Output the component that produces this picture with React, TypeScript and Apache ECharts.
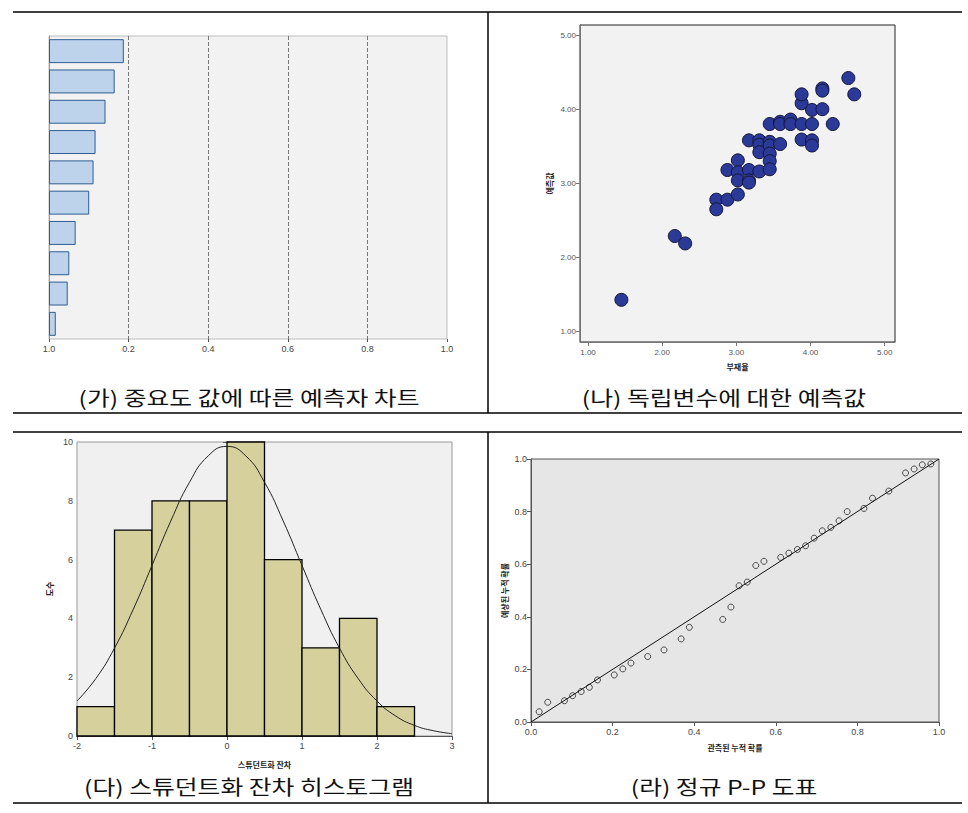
import React, { useEffect, useRef } from "react";
import * as echarts from "echarts";

// ---------- (가) predictor importance ----------
const importanceCats = ["예측자 1", "예측자 2", "예측자 3", "예측자 4", "예측자 5", "예측자 6", "예측자 7", "예측자 8", "예측자 9", "예측자 10"];
const importanceValues = [0.188, 0.165, 0.142, 0.117, 0.112, 0.101, 0.067, 0.051, 0.047, 0.017];
const importanceTickLabels = ["1.0", "0.2", "0.4", "0.6", "0.8", "1.0"];

// ---------- (나) scatter ----------
const scatterX = [1.45, 2.17, 2.31, 2.73, 2.73, 2.88, 2.88, 3.02, 3.02, 3.02, 3.02, 3.17, 3.17, 3.17, 3.17, 3.31, 3.31, 3.31, 3.31, 3.45, 3.45, 3.45, 3.45, 3.45, 3.45, 3.59, 3.59, 3.59, 3.73, 3.73, 3.88, 3.88, 3.88, 3.88, 4.02, 4.02, 4.02, 4.02, 4.16, 4.16, 4.16, 4.30, 4.51, 4.59];
const scatterY = [1.43, 2.29, 2.19, 2.78, 2.65, 2.78, 3.18, 2.85, 3.31, 3.15, 3.04, 3.18, 3.04, 3.01, 3.58, 3.58, 3.52, 3.42, 3.16, 3.56, 3.51, 3.40, 3.30, 3.19, 3.80, 3.83, 3.80, 3.53, 3.86, 3.80, 3.80, 3.59, 4.08, 4.20, 3.99, 3.80, 3.58, 3.51, 4.28, 4.25, 4.00, 3.80, 4.42, 4.20];
const scatterTicks = [1, 2, 3, 4, 5];

// ---------- (다) histogram ----------
const histBinStart = [-2, -1.5, -1, -0.5, 0, 0.5, 1, 1.5, 2];
const histBinEnd = [-1.5, -1, -0.5, 0, 0.5, 1, 1.5, 2, 2.5];
const histCounts = [1, 7, 8, 8, 10, 6, 3, 4, 1];
const curveX = [-2, -1.75, -1.5, -1.25, -1, -0.75, -0.5, -0.25, 0, 0.25, 0.5, 0.75, 1, 1.25, 1.5, 1.75, 2, 2.25, 2.5, 2.75, 3];
const curveY = [1.19, 1.95, 2.99, 4.31, 5.8, 7.31, 8.63, 9.53, 9.85, 9.53, 8.63, 7.31, 5.8, 4.31, 2.99, 1.95, 1.19, 0.68, 0.36, 0.18, 0.08];

// ---------- (라) P-P plot ----------
const ppObserved = [0.02, 0.041, 0.082, 0.102, 0.123, 0.143, 0.163, 0.204, 0.225, 0.245, 0.286, 0.326, 0.368, 0.388, 0.47, 0.49, 0.51, 0.53, 0.551, 0.571, 0.612, 0.632, 0.653, 0.673, 0.694, 0.714, 0.735, 0.755, 0.775, 0.816, 0.837, 0.877, 0.918, 0.939, 0.959, 0.98];
const ppExpected = [0.039, 0.075, 0.081, 0.1, 0.116, 0.132, 0.16, 0.179, 0.202, 0.224, 0.249, 0.274, 0.316, 0.36, 0.39, 0.437, 0.518, 0.532, 0.595, 0.611, 0.626, 0.642, 0.656, 0.67, 0.699, 0.727, 0.74, 0.765, 0.8, 0.812, 0.851, 0.878, 0.947, 0.962, 0.978, 0.981];
const refLineX = [0, 1];
const refLineY = [0, 1];

const captions = [
  "(가) 중요도 값에 따른 예측자 차트",
  "(나) 독립변수에 대한 예측값",
  "(다) 스튜던트화 잔차 히스토그램",
  "(라) 정규 P-P 도표",
];

const LATIN = "'Liberation Sans', Arial, sans-serif";
const KR = "'Noto Sans CJK KR', sans-serif";

export default function App() {
  const ref = useRef<HTMLDivElement>(null);

  useEffect(() => {
    if (!ref.current) return;
    const chart = echarts.init(ref.current, undefined, { renderer: "svg" });

    const tickLabel = (extra: any = {}) => ({
      fontFamily: LATIN,
      fontSize: 9,
      color: "#444",
      ...extra,
    });
    const nameStyle = { fontFamily: KR, fontSize: 8, fontWeight: "bold" as const, color: "#222" };

    const tableLine = (x1: number, y1: number, x2: number, y2: number) => ({
      type: "line",
      shape: { x1, y1, x2, y2 },
      style: { stroke: "#000", lineWidth: 1.5 },
      silent: true,
    });
    const caption = (text: string, x: number, y: number) => ({
      type: "text",
      x,
      y,
      originX: 0,
      originY: 0,
      scaleX: 1.24,
      style: {
        text,
        font: `20px ${KR}`,
        fill: "#111",
        textAlign: "center",
        textVerticalAlign: "middle",
      },
      silent: true,
    });

    const option: any = {
      animation: false,
      backgroundColor: "#fff",
      grid: [
        { left: 49, top: 36, width: 398, height: 303, show: true, backgroundColor: "#f2f2f2", borderColor: "#bdbdbd", borderWidth: 1 },
        { left: 580, top: 25, width: 315, height: 317, show: true, backgroundColor: "#f2f2f2", borderColor: "#222", borderWidth: 1 },
        { left: 77, top: 442, width: 375, height: 294, show: true, backgroundColor: "#f0f0f0", borderColor: "#999", borderWidth: 1 },
        { left: 531, top: 459, width: 408, height: 263, show: true, backgroundColor: "#e6e6e6", borderColor: "#555", borderWidth: 1 },
      ],
      xAxis: [
        {
          gridIndex: 0, type: "value", min: 0, max: 1, interval: 0.2,
          axisLine: { lineStyle: { color: "#555" } },
          axisTick: { show: true, length: 3, lineStyle: { color: "#555" } },
          axisLabel: { ...tickLabel(), margin: 5, formatter: (v: number) => importanceTickLabels[Math.round(v / 0.2)] },
          splitLine: { show: true, showMinLine: false, showMaxLine: false, lineStyle: { type: "dashed", color: "#777", width: 1 } },
        },
        {
          gridIndex: 1, type: "value", min: 0.892, max: 5.139,
          axisLine: { lineStyle: { color: "#777" } },
          axisTick: { show: true, length: 4, customValues: scatterTicks, lineStyle: { color: "#777" } },
          axisLabel: { ...tickLabel({ fontSize: 8, color: "#555" }), margin: 6, customValues: scatterTicks, formatter: (v: number) => v.toFixed(2) },
          splitLine: { show: false },
          name: "부재율", nameLocation: "middle", nameGap: 20, nameTextStyle: nameStyle,
        },
        {
          gridIndex: 2, type: "value", min: -2, max: 3, interval: 1,
          axisLine: { lineStyle: { color: "#555" } },
          axisTick: { show: true, length: 4, lineStyle: { color: "#555" } },
          axisLabel: { ...tickLabel(), margin: 5 },
          splitLine: { show: false },
          name: "스튜던트화 잔차", nameLocation: "middle", nameGap: 24, nameTextStyle: nameStyle,
        },
        {
          gridIndex: 3, type: "value", min: 0, max: 1, interval: 0.2,
          axisLine: { lineStyle: { color: "#555" } },
          axisTick: { show: true, length: 4, lineStyle: { color: "#555" } },
          axisLabel: { ...tickLabel(), margin: 5, formatter: (v: number) => v.toFixed(1) },
          splitLine: { show: false },
          name: "관측된 누적 확률", nameLocation: "middle", nameGap: 21, nameTextStyle: nameStyle,
        },
      ],
      yAxis: [
        {
          gridIndex: 0, type: "category", data: importanceCats, inverse: true,
          axisLine: { lineStyle: { color: "#999" } },
          axisTick: { show: false },
          axisLabel: { show: false },
        },
        {
          gridIndex: 1, type: "value", min: 0.861, max: 5.135,
          axisLine: { lineStyle: { color: "#777" } },
          axisTick: { show: true, length: 4, customValues: scatterTicks, lineStyle: { color: "#777" } },
          axisLabel: { ...tickLabel({ fontSize: 8, color: "#555" }), margin: 4, customValues: scatterTicks, formatter: (v: number) => v.toFixed(2) },
          splitLine: { show: false },
          name: "예측값", nameLocation: "middle", nameRotate: 90, nameGap: 27, nameTextStyle: nameStyle,
        },
        {
          gridIndex: 2, type: "value", min: 0, max: 10, interval: 2,
          axisLine: { lineStyle: { color: "#555" } },
          axisTick: { show: true, length: 4, lineStyle: { color: "#555" } },
          axisLabel: { ...tickLabel(), margin: 4 },
          splitLine: { show: false },
          name: "도수", nameLocation: "middle", nameRotate: 90, nameGap: 24, nameTextStyle: nameStyle,
        },
        {
          gridIndex: 3, type: "value", min: 0, max: 1, interval: 0.2,
          axisLine: { lineStyle: { color: "#555" } },
          axisTick: { show: true, length: 4, lineStyle: { color: "#555" } },
          axisLabel: { ...tickLabel(), margin: 4, formatter: (v: number) => v.toFixed(1) },
          splitLine: { show: false },
          name: "예상된 누적 확률", nameLocation: "middle", nameRotate: 90, nameGap: 23, nameTextStyle: nameStyle,
        },
      ],
      series: [
        {
          type: "bar", xAxisIndex: 0, yAxisIndex: 0,
          data: importanceValues,
          barCategoryGap: "21%",
          itemStyle: { color: "#bdd3ec", borderColor: "#2f5e92", borderWidth: 1 },
        },
        {
          type: "scatter", xAxisIndex: 1, yAxisIndex: 1,
          data: scatterX.map((x, i) => [x, scatterY[i]]),
          symbolSize: 13,
          itemStyle: { color: "#2b3a98", borderColor: "#14163a", borderWidth: 1, opacity: 1 },
        },
        {
          type: "custom", xAxisIndex: 2, yAxisIndex: 2,
          data: histBinStart.map((s, i) => [s, histBinEnd[i], histCounts[i]]),
          encode: { x: [0, 1], y: 2 },
          renderItem: (params: any, api: any) => {
            const p0 = api.coord([api.value(0), api.value(2)]);
            const p1 = api.coord([api.value(1), 0]);
            return {
              type: "rect",
              shape: { x: p0[0], y: p0[1], width: p1[0] - p0[0], height: p1[1] - p0[1] },
              style: { fill: "#d6d09c", stroke: "#000", lineWidth: 1.3 },
            };
          },
        },
        {
          type: "line", xAxisIndex: 2, yAxisIndex: 2,
          data: curveX.map((x, i) => [x, curveY[i]]),
          smooth: true, showSymbol: false, z: 5,
          lineStyle: { color: "#222", width: 1 },
        },
        {
          type: "line", xAxisIndex: 3, yAxisIndex: 3,
          data: refLineX.map((x, i) => [x, refLineY[i]]),
          showSymbol: false,
          lineStyle: { color: "#111", width: 1 },
        },
        {
          type: "scatter", xAxisIndex: 3, yAxisIndex: 3,
          data: ppObserved.map((x, i) => [x, ppExpected[i]]),
          symbolSize: 6,
          itemStyle: { color: "rgba(0,0,0,0)", borderColor: "#222", borderWidth: 1 },
        },
      ],
      graphic: [
        tableLine(13, 12, 962, 12),
        tableLine(488, 12, 488, 413),
        tableLine(13, 413, 962, 413),
        tableLine(13, 432, 962, 432),
        tableLine(488, 432, 488, 803),
        tableLine(13, 803, 962, 803),
        caption(captions[0], 249, 397),
        caption(captions[1], 724, 397),
        caption(captions[2], 249, 786),
        caption(captions[3], 724, 786),
      ],
    };

    chart.setOption(option);
    return () => chart.dispose();
  }, []);

  return (
    <div
      ref={ref}
      style={{ position: "absolute", left: 0, top: 0, width: 968, height: 813, background: "#fff" }}
    />
  );
}
